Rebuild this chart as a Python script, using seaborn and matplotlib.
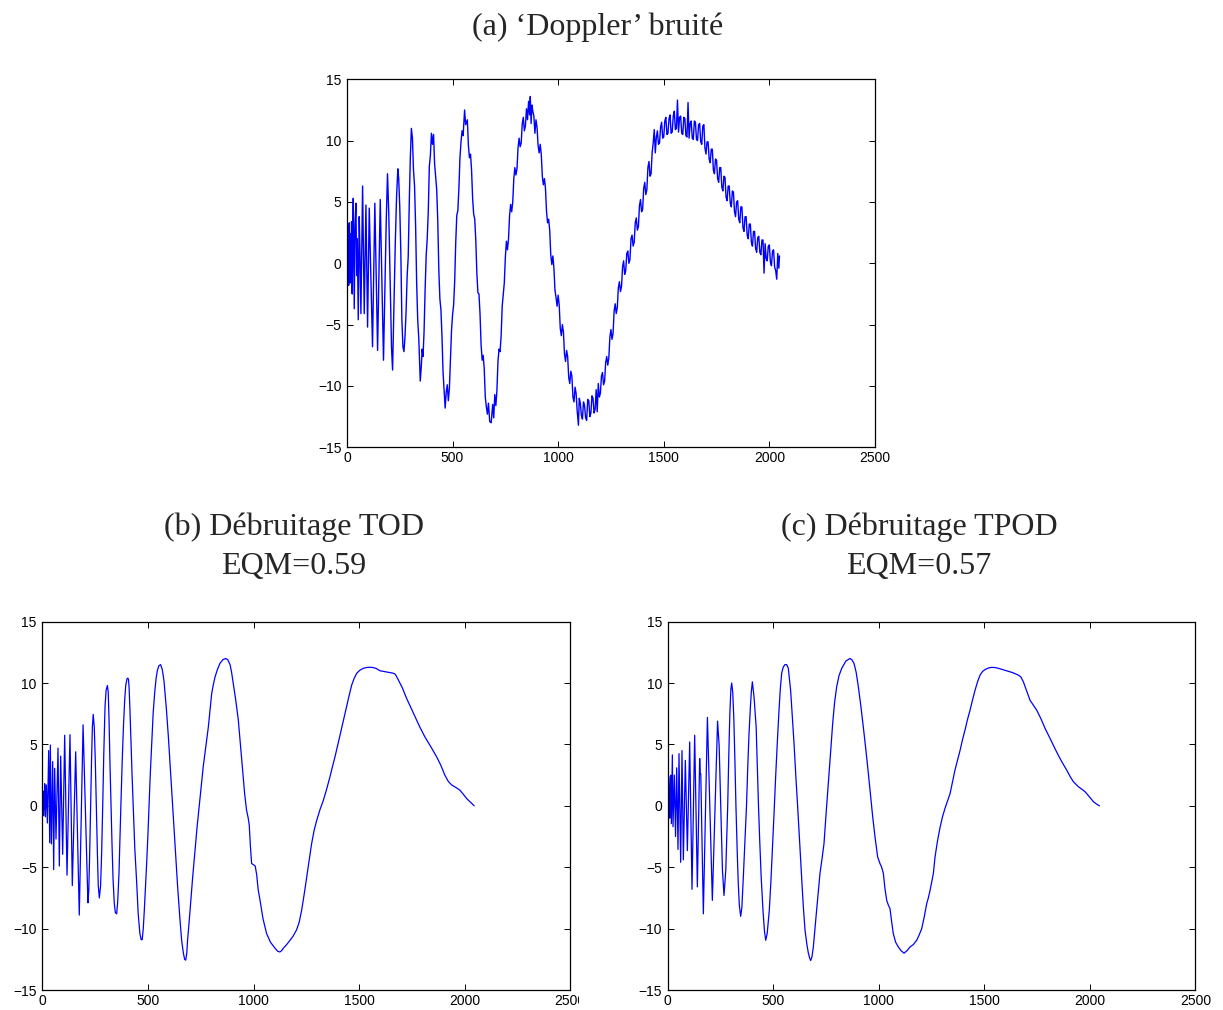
import matplotlib
matplotlib.use("Agg")
import matplotlib.pyplot as plt
import seaborn as sns
from matplotlib.transforms import Bbox, TransformedBbox

# (a) 'Doppler' bruité - points (échantillon, amplitude)
noisy_pts = [
    (0, 0.5), (1, 2.2), (2, -1.2), (3, 2.6), (4, -1.5), (5, 1.8), (6, -0.8), (7, 3.0), (8, -1.8),
    (9, 2.2), (10.9, 3.3), (12, -1.2), (13.5, 1.0), (15.6, -1.6), (17, 2.4), (18.5, -0.6), (20, 1.5),
    (21.9, 3.4), (23.5, -1.8), (25, -2.5), (27, 2.0), (29.8, 5.3), (34.5, -3.7), (38, 3.0), (42.4, 4.9),
    (46, -1.0), (49, 2.0), (53.5, -4.6), (58, 3.8), (62, 0.5), (66, -4.1), (74, 6.3), (81.8, -4.1),
    (89.8, 4.75), (97.6, -5.2), (105.5, 4.5), (121, -6.8), (132, 4.9), (145, -7.1), (157.6, 5.2),
    (173, -7.9), (186, 3.5), (192, 7.3), (198, 4.0), (211, -6.9), (216, -8.7), (229, 1.8), (235, 5.5),
    (241, 7.7), (245, 6.9), (250, 4.6), (255, 0.9), (260, -4.6), (265, -6.8), (270, -7.2), (275, -5.9),
    (280, -3.9), (285, -1.0), (290, 0.5), (295, 4.9), (300, 8.6), (305, 11.0), (310, 10.2), (315, 7.6),
    (320, 6.3), (325, 3.1), (330, -1.6), (335, -4.6), (340, -6.1), (347, -9.6), (352, -8.4), (356, -7.0),
    (360, -7.6), (365, -5.6), (370, -2.2), (375, 0.6), (380, 2.0), (385, 4.2), (390, 7.9), (395, 8.8),
    (400, 10.6), (405, 9.7), (410, 10.5), (415, 8.1), (420, 7.1), (425, 6.0), (430, 3.4), (435, -0.6),
    (440, -2.9), (445, -3.8), (450, -6.0), (455, -8.9), (460, -10.3), (465, -11.8), (470, -10.5),
    (475, -9.9), (480, -11.2), (485, -10.2), (490, -7.9), (495, -5.5), (500, -4.2), (505, -3.4),
    (510, -1.5), (515, 1.7), (520, 3.9), (525, 4.3), (530, 6.1), (535, 8.6), (540, 9.9), (545, 10.8),
    (550, 10.4), (557, 12.5), (562, 11.3), (570, 11.7), (575, 9.6), (580, 8.6), (585, 8.9), (590, 7.6),
    (595, 5.3), (600, 4.0), (605, 3.6), (610, 1.9), (615, -0.8), (620, -2.4), (625, -2.5), (630, -4.1),
    (635, -6.6), (640, -7.9), (645, -7.5), (650, -8.6), (655, -10.9), (660, -11.7), (665, -12.3),
    (670, -11.4), (676, -12.9), (683, -13.0), (690, -11.5), (695, -12.6), (700, -10.7), (705, -11.6),
    (710, -10.4), (715, -8.0), (720, -7.0), (725, -7.2), (730, -5.9), (735, -3.5), (740, -2.5),
    (745, -1.6), (750, 0.5), (755, 1.8), (760, 1.1), (765, 2.0), (770, 3.9), (775, 4.8), (780, 4.2),
    (785, 5.0), (790, 6.9), (795, 7.8), (800, 7.2), (805, 7.7), (810, 9.4), (815, 10.2), (820, 9.5),
    (825, 9.8), (830, 11.4), (835, 11.9), (840, 10.8), (845, 11.2), (850, 12.6), (855, 11.7), (860, 13.2),
    (865, 12.1), (868, 13.6), (872, 11.4), (876, 12.9), (880, 12.4), (885, 12.0), (890, 10.6), (895, 11.7),
    (900, 11.1), (905, 9.6), (910, 9.0), (915, 9.7), (920, 8.9), (925, 7.1), (930, 6.4), (935, 6.9),
    (940, 6.1), (945, 4.2), (950, 3.3), (955, 3.6), (960, 2.7), (965, 0.7), (970, -0.1), (975, 0.6),
    (980, -0.4), (985, -2.2), (990, -2.8), (995, -3.5), (1000, -2.6), (1005, -3.4), (1010, -5.3),
    (1015, -5.9), (1020, -5.0), (1025, -5.6), (1030, -7.4), (1035, -8.0), (1040, -7.1), (1045, -7.6),
    (1050, -9.3), (1055, -9.8), (1060, -8.8), (1065, -9.2), (1070, -10.9), (1075, -11.3), (1080, -10.1),
    (1085, -10.6), (1090, -12.0), (1096, -13.2), (1100, -11.0), (1105, -11.4), (1110, -12.4),
    (1115, -12.7), (1120, -11.3), (1125, -11.6), (1130, -12.6), (1135, -12.8), (1140, -11.1),
    (1145, -11.2), (1150, -12.5), (1155, -12.2), (1160, -10.8), (1165, -11.0), (1170, -12.2),
    (1175, -11.9), (1180, -10.3), (1185, -12.1), (1190, -9.8), (1195, -10.9), (1200, -10.6), (1205, -9.2),
    (1210, -8.9), (1215, -9.9), (1220, -9.6), (1225, -8.1), (1230, -7.6), (1235, -8.3), (1240, -7.7),
    (1245, -6.0), (1250, -5.4), (1255, -6.2), (1260, -5.7), (1265, -3.9), (1270, -3.3), (1275, -4.1),
    (1280, -3.6), (1285, -2.0), (1290, -1.5), (1295, -2.3), (1300, -1.9), (1305, -0.3), (1310, 0.2),
    (1315, -0.9), (1320, -0.6), (1325, 0.8), (1330, 1.0), (1335, 0.0), (1340, 0.3), (1345, 2.0),
    (1350, 2.3), (1355, 1.4), (1360, 1.7), (1365, 3.3), (1370, 3.7), (1375, 2.7), (1380, 3.0), (1385, 4.7),
    (1390, 5.2), (1395, 4.2), (1400, 4.4), (1405, 6.1), (1410, 6.6), (1415, 5.6), (1420, 6.0), (1425, 7.8),
    (1430, 8.3), (1435, 7.1), (1440, 7.3), (1445, 9.0), (1450, 9.8), (1455, 10.9), (1460, 9.0),
    (1465, 10.3), (1470, 10.8), (1475, 9.7), (1480, 9.8), (1485, 11.1), (1490, 11.5), (1495, 10.2),
    (1500, 10.3), (1505, 11.6), (1510, 11.9), (1515, 10.5), (1520, 10.6), (1525, 11.8), (1530, 12.1),
    (1535, 10.6), (1540, 10.7), (1545, 12.0), (1550, 12.4), (1555, 10.9), (1560, 11.0), (1565, 13.3),
    (1570, 10.7), (1575, 11.9), (1580, 12.0), (1585, 10.6), (1590, 10.5), (1595, 11.9), (1600, 11.8),
    (1605, 10.4), (1610, 10.3), (1615, 13.1), (1620, 10.2), (1625, 11.4), (1630, 11.6), (1635, 10.2),
    (1640, 10.1), (1645, 11.6), (1650, 11.5), (1655, 10.1), (1660, 10.0), (1665, 11.3), (1670, 11.4),
    (1675, 9.9), (1680, 9.7), (1685, 11.2), (1690, 11.3), (1695, 9.4), (1700, 8.9), (1705, 9.9),
    (1710, 9.9), (1715, 8.5), (1720, 8.2), (1725, 9.3), (1730, 9.3), (1735, 7.6), (1740, 7.3), (1745, 8.5),
    (1750, 8.4), (1755, 6.9), (1760, 6.6), (1765, 7.8), (1770, 7.8), (1775, 6.2), (1780, 5.9), (1785, 7.1),
    (1790, 7.0), (1795, 5.4), (1800, 5.1), (1805, 6.3), (1810, 6.3), (1815, 4.9), (1820, 4.6), (1825, 5.9),
    (1830, 5.8), (1835, 4.2), (1840, 3.8), (1845, 5.0), (1850, 5.1), (1855, 3.6), (1860, 3.3), (1865, 4.6),
    (1870, 4.6), (1875, 2.9), (1880, 2.6), (1885, 3.8), (1890, 3.8), (1895, 2.3), (1900, 2.0), (1905, 3.2),
    (1910, 3.2), (1915, 1.7), (1920, 1.4), (1925, 2.6), (1930, 2.6), (1935, 1.2), (1940, 0.9), (1945, 2.1),
    (1950, 2.2), (1955, 0.9), (1960, 0.7), (1965, 1.9), (1970, 1.9), (1975, -0.8), (1980, 1.6), (1985, 0.4),
    (1990, 0.2), (1995, 1.4), (2000, 1.5), (2005, 0.1), (2010, -0.2), (2015, 1.0), (2020, 1.1),
    (2025, -0.3), (2030, -0.6), (2035, -1.3), (2040, 0.8), (2045, -0.4), (2048, 0.6)]

# (b) Débruitage TOD
tod_pts = [
    (0, 0.4), (1.5, 1.0), (3, -0.5), (4.5, 0.9), (6, -0.8), (7.5, 1.2), (9, -0.3), (11.2, 1.8),
    (14.4, -0.9), (19.1, 1.7), (23.8, -1.4), (30.2, 4.5), (34.9, -3.0), (38, 4.95), (42.8, -3.1),
    (49.1, 3.6), (53.8, -5.2), (58.5, 3.05), (64.8, -2.7), (74.3, 4.7), (80.6, -4.9), (86.9, 4.05),
    (96.4, -3.95), (105.9, 5.75), (117, -5.65), (131, 5.8), (142, -6.5), (158, 4.4), (175, -8.9),
    (193, 6.6), (216, -7.9), (220, -6.9), (224, -4.1), (228.5, -0.2), (233, 3.6), (237, 6.4), (241, 7.45),
    (246, 6.4), (251, 3.6), (256, -0.3), (261, -4.0), (265, -6.5), (270, -7.5), (276, -6.5), (281, -3.8),
    (286, 0.0), (291, 4.2), (297, 8.1), (302, 9.4), (308, 9.8), (312, 9.3), (316, 7.0), (320, 3.7),
    (325, 0.2), (330, -3.1), (335, -6.0), (341, -8.0), (346, -8.7), (352, -8.8), (357, -7.8), (363, -5.5),
    (367, -3.0), (372, 0.0), (378, 3.5), (384, 6.4), (390, 8.6), (395, 9.8), (401, 10.35), (405, 10.4),
    (408, 10.3), (411, 9.6), (415, 7.8), (420, 5.1), (425, 2.5), (431, -0.35), (438, -3.5), (447, -6.3),
    (454, -8.8), (462, -10.4), (468, -10.9), (473, -10.9), (478, -10.0), (483, -8.5), (488, -6.8),
    (494, -4.7), (500, -2.4), (505, -0.1), (511, 2.5), (518, 5.1), (525, 7.6), (533, 9.4), (539, 10.4),
    (545, 11.05), (552, 11.4), (560, 11.5), (568, 11.1), (576, 10.2), (587, 8.0), (597, 5.6), (605, 3.4),
    (612, 1.55), (620, -0.8), (628, -3.1), (640, -6.4), (652, -9.3), (660, -11.0), (668, -12.0),
    (674, -12.5), (679, -12.57), (684, -12.0), (688, -10.9), (695, -9.5), (702, -7.96), (712, -5.8),
    (723, -3.6), (733, -1.7), (743, 0.0), (752, 1.6), (762, 3.2), (774, 4.8), (786, 6.4), (794, 7.8),
    (802, 9.15), (810, 9.9), (818, 10.5), (829, 11.1), (841, 11.6), (855, 11.9), (868, 12.0), (878, 11.9),
    (889, 11.5), (896, 10.9), (904, 10.0), (916, 8.6), (928, 7.0), (938, 5.0), (949, 2.77), (958, 1.0),
    (967, -0.35), (975, -1.0), (980, -1.6), (985, -3.2), (991, -4.7), (1000, -4.8), (1008, -4.9),
    (1015, -5.6), (1022, -6.8), (1031, -7.7), (1045, -9.2), (1062, -10.4), (1080, -11.1), (1102, -11.6),
    (1115, -11.85), (1125, -11.9), (1133, -11.8), (1141, -11.6), (1157, -11.3), (1173, -10.95),
    (1188, -10.6), (1204, -10.1), (1216, -9.5), (1228, -8.5), (1240, -7.2), (1252, -5.8), (1264, -4.4),
    (1275, -3.1), (1287, -2.0), (1299, -1.2), (1315, -0.3), (1331, 0.46), (1347, 1.4), (1362, 2.36),
    (1374, 3.2), (1386, 4.0), (1401, 5.1), (1417, 6.3), (1429, 7.2), (1441, 8.1), (1453, 9.0),
    (1465, 9.84), (1477, 10.4), (1489, 10.8), (1504, 11.05), (1520, 11.2), (1540, 11.28), (1560, 11.28),
    (1580, 11.2), (1599, 11.0), (1630, 10.9), (1662, 10.8), (1672, 10.7), (1686, 10.25), (1705, 9.6),
    (1725, 8.75), (1745, 8.0), (1765, 7.26), (1788, 6.4), (1812, 5.6), (1840, 4.8), (1867, 4.0),
    (1887, 3.3), (1906, 2.5), (1922, 2.0), (1938, 1.7), (1958, 1.5), (1977, 1.28), (1993, 0.95),
    (2009, 0.6), (2027, 0.3), (2045, 0.0)]

# (c) Débruitage TPOD
tpod_pts = [
    (0, 0.5), (2, 2.4), (4, -0.6), (5.5, 2.4), (8, 0.3), (10.3, -1.0), (13, 1.3), (15, 2.5),
    (18.2, -1.45), (22.9, 4.15), (26, -1.7), (32.3, 2.5), (38, -2.5), (43.4, 3.1), (49.7, -3.55),
    (54.4, 4.25), (62.3, -4.6), (68.6, 4.5), (75, -4.4), (84.4, 3.7), (94, -3.65), (105, 5.2),
    (116, -6.8), (128.6, 5.75), (141.3, -6.6), (152.3, 3.85), (155, 2.6), (157.5, 2.6), (169.7, -8.8),
    (189, 7.2), (200.5, -0.2), (212.3, -7.7), (224.6, -0.4), (237, 6.9), (244.5, 4.9), (252, 0.0),
    (260, -5.2), (267.5, -7.3), (276, -5.2), (285, 0.0), (290, 4.0), (295, 7.4), (300, 9.5), (304, 10.0),
    (309, 9.2), (314, 7.1), (319, 3.8), (324, 0.0), (330, -3.7), (335, -6.3), (340, -8.1), (346.4, -9.0),
    (352, -8.3), (359, -5.8), (366, -3.0), (374, 0.0), (380, 3.2), (386, 5.9), (393, 8.2), (397, 9.3),
    (401.8, 10.1), (410, 8.8), (419.8, 6.4), (425, 3.4), (430.8, 0.0), (437, -3.0), (443.5, -5.8),
    (452, -8.5), (459, -10.2), (465, -10.95), (472, -10.4), (482, -8.5), (490, -6.0), (498, -3.07),
    (505, -0.4), (512, 2.36), (520, 5.2), (528, 7.8), (534, 9.5), (540.6, 10.8), (548, 11.3), (556, 11.5),
    (564, 11.5), (572, 11.2), (583, 9.4), (591, 7.3), (599, 5.1), (607, 2.6), (616, 0.0), (625, -2.8),
    (635, -5.8), (643, -8.2), (651, -10.1), (660, -11.3), (667, -12.0), (673, -12.4), (678, -12.6),
    (684, -12.3), (690.5, -11.5), (698, -10.0), (706, -8.5), (714, -7.0), (722, -5.5), (731, -4.4),
    (741, -3.07), (751, -0.6), (761.6, 1.82), (772, 4.3), (782, 6.7), (791, 8.4), (801, 9.7), (812, 10.6),
    (825, 11.2), (845, 11.8), (864, 12.0), (873, 11.9), (883, 11.6), (893, 10.9), (903.6, 9.7), (915, 8.2),
    (927, 6.44), (939, 4.6), (951, 2.64), (961, 0.9), (971.6, -0.9), (983, -2.6), (995, -4.16),
    (1006, -4.7), (1014, -5.0), (1022, -5.5), (1030, -6.8), (1038, -7.7), (1046, -8.1), (1053.5, -8.37),
    (1061, -9.4), (1069, -10.4), (1080, -11.1), (1093, -11.5), (1106, -11.8), (1120, -12.0),
    (1134, -11.8), (1148, -11.5), (1164, -11.3), (1180, -10.95), (1192, -10.5), (1203.7, -10.0),
    (1215, -9.1), (1227.4, -7.96), (1235, -7.5), (1243, -6.9), (1251, -6.2), (1259, -5.5), (1266.5, -4.2),
    (1278, -2.9), (1290, -1.8), (1302, -0.9), (1314, -0.2), (1326, 0.4), (1338, 1.0), (1349, 1.9),
    (1361, 2.9), (1373, 3.7), (1385, 4.5), (1397, 5.4), (1409, 6.2), (1420, 7.0), (1432.6, 7.8),
    (1444, 8.6), (1456, 9.4), (1468, 10.1), (1480, 10.65), (1492, 10.95), (1503.6, 11.1), (1519, 11.22),
    (1535, 11.28), (1551, 11.26), (1567, 11.2), (1586, 11.1), (1606, 11.0), (1634, 10.85), (1661, 10.65),
    (1673, 10.5), (1685, 10.1), (1700, 9.4), (1716.6, 8.6), (1732, 8.2), (1748, 7.8), (1768, 7.1),
    (1788, 6.3), (1804, 5.75), (1819.6, 5.2), (1835, 4.65), (1851, 4.1), (1870, 3.5), (1890.6, 2.9),
    (1906, 2.4), (1922, 1.96), (1934, 1.75), (1946, 1.55), (1962, 1.35), (1977.6, 1.14), (1997, 0.75),
    (2017, 0.33), (2031, 0.15), (2045, 0.0)]

xticks = [0, 500, 1000, 1500, 2000, 2500]
yticks = [-15, -10, -5, 0, 5, 10, 15]

sns.set_style("ticks", {"xtick.direction": "in", "ytick.direction": "in",
                        "axes.edgecolor": "black", "xtick.color": "black",
                        "ytick.color": "black"})
plt.rcParams["font.family"] = ["Liberation Sans", "DejaVu Sans"]

fig = plt.figure(figsize=(12.23, 10.10), dpi=100)
ax_a = fig.add_axes([0.2837, 0.5571, 0.4317, 0.3644])
ax_b = fig.add_axes([0.0346, 0.0198, 0.4317, 0.3647])
ax_c = fig.add_axes([0.5458, 0.0198, 0.4317, 0.3647])

for ax, pts, lw in [(ax_a, noisy_pts, 1.0), (ax_b, tod_pts, 0.9), (ax_c, tpod_pts, 0.9)]:
    xs = [p[0] for p in pts]
    ys = [p[1] for p in pts]
    sns.lineplot(x=xs, y=ys, ax=ax, color="blue", lw=lw, sort=False, estimator=None)

for ax in [ax_a, ax_b, ax_c]:
    ax.set_xlim(0, 2500)
    ax.set_ylim(-15, 15)
    ax.set_xticks(xticks)
    ax.set_yticks(yticks)
    ax.tick_params(top=True, right=True, length=4.5, width=0.7, labelsize=10, pad=3)
    ax.tick_params(axis="y", pad=4)
    for s in ax.spines.values():
        s.set_linewidth(0.9)
        s.set_color("black")

# le '2500' du panneau (b) est coupé dans l'original
clip = TransformedBbox(Bbox([[0, 0], [0.4734, 1]]), fig.transFigure)
lab = ax_b.xaxis.get_major_ticks()[-1].label1
lab.set_clip_box(clip)
lab.set_clip_on(True)

serif = ["Liberation Serif", "DejaVu Serif"]
fig.text(0.489, 0.973, "(a) \u2018Doppler\u2019 bruité", ha="center", va="center", fontsize=23, family=serif)
fig.text(0.2404, 0.4782, "(b) Débruitage TOD", ha="center", va="center", fontsize=23, family=serif)
fig.text(0.2404, 0.4396, "EQM=0.59", ha="center", va="center", fontsize=23, family=serif)
fig.text(0.7514, 0.4782, "(c) Débruitage TPOD", ha="center", va="center", fontsize=23, family=serif)
fig.text(0.7514, 0.4396, "EQM=0.57", ha="center", va="center", fontsize=23, family=serif)

fig.savefig("out.png", dpi=100)
